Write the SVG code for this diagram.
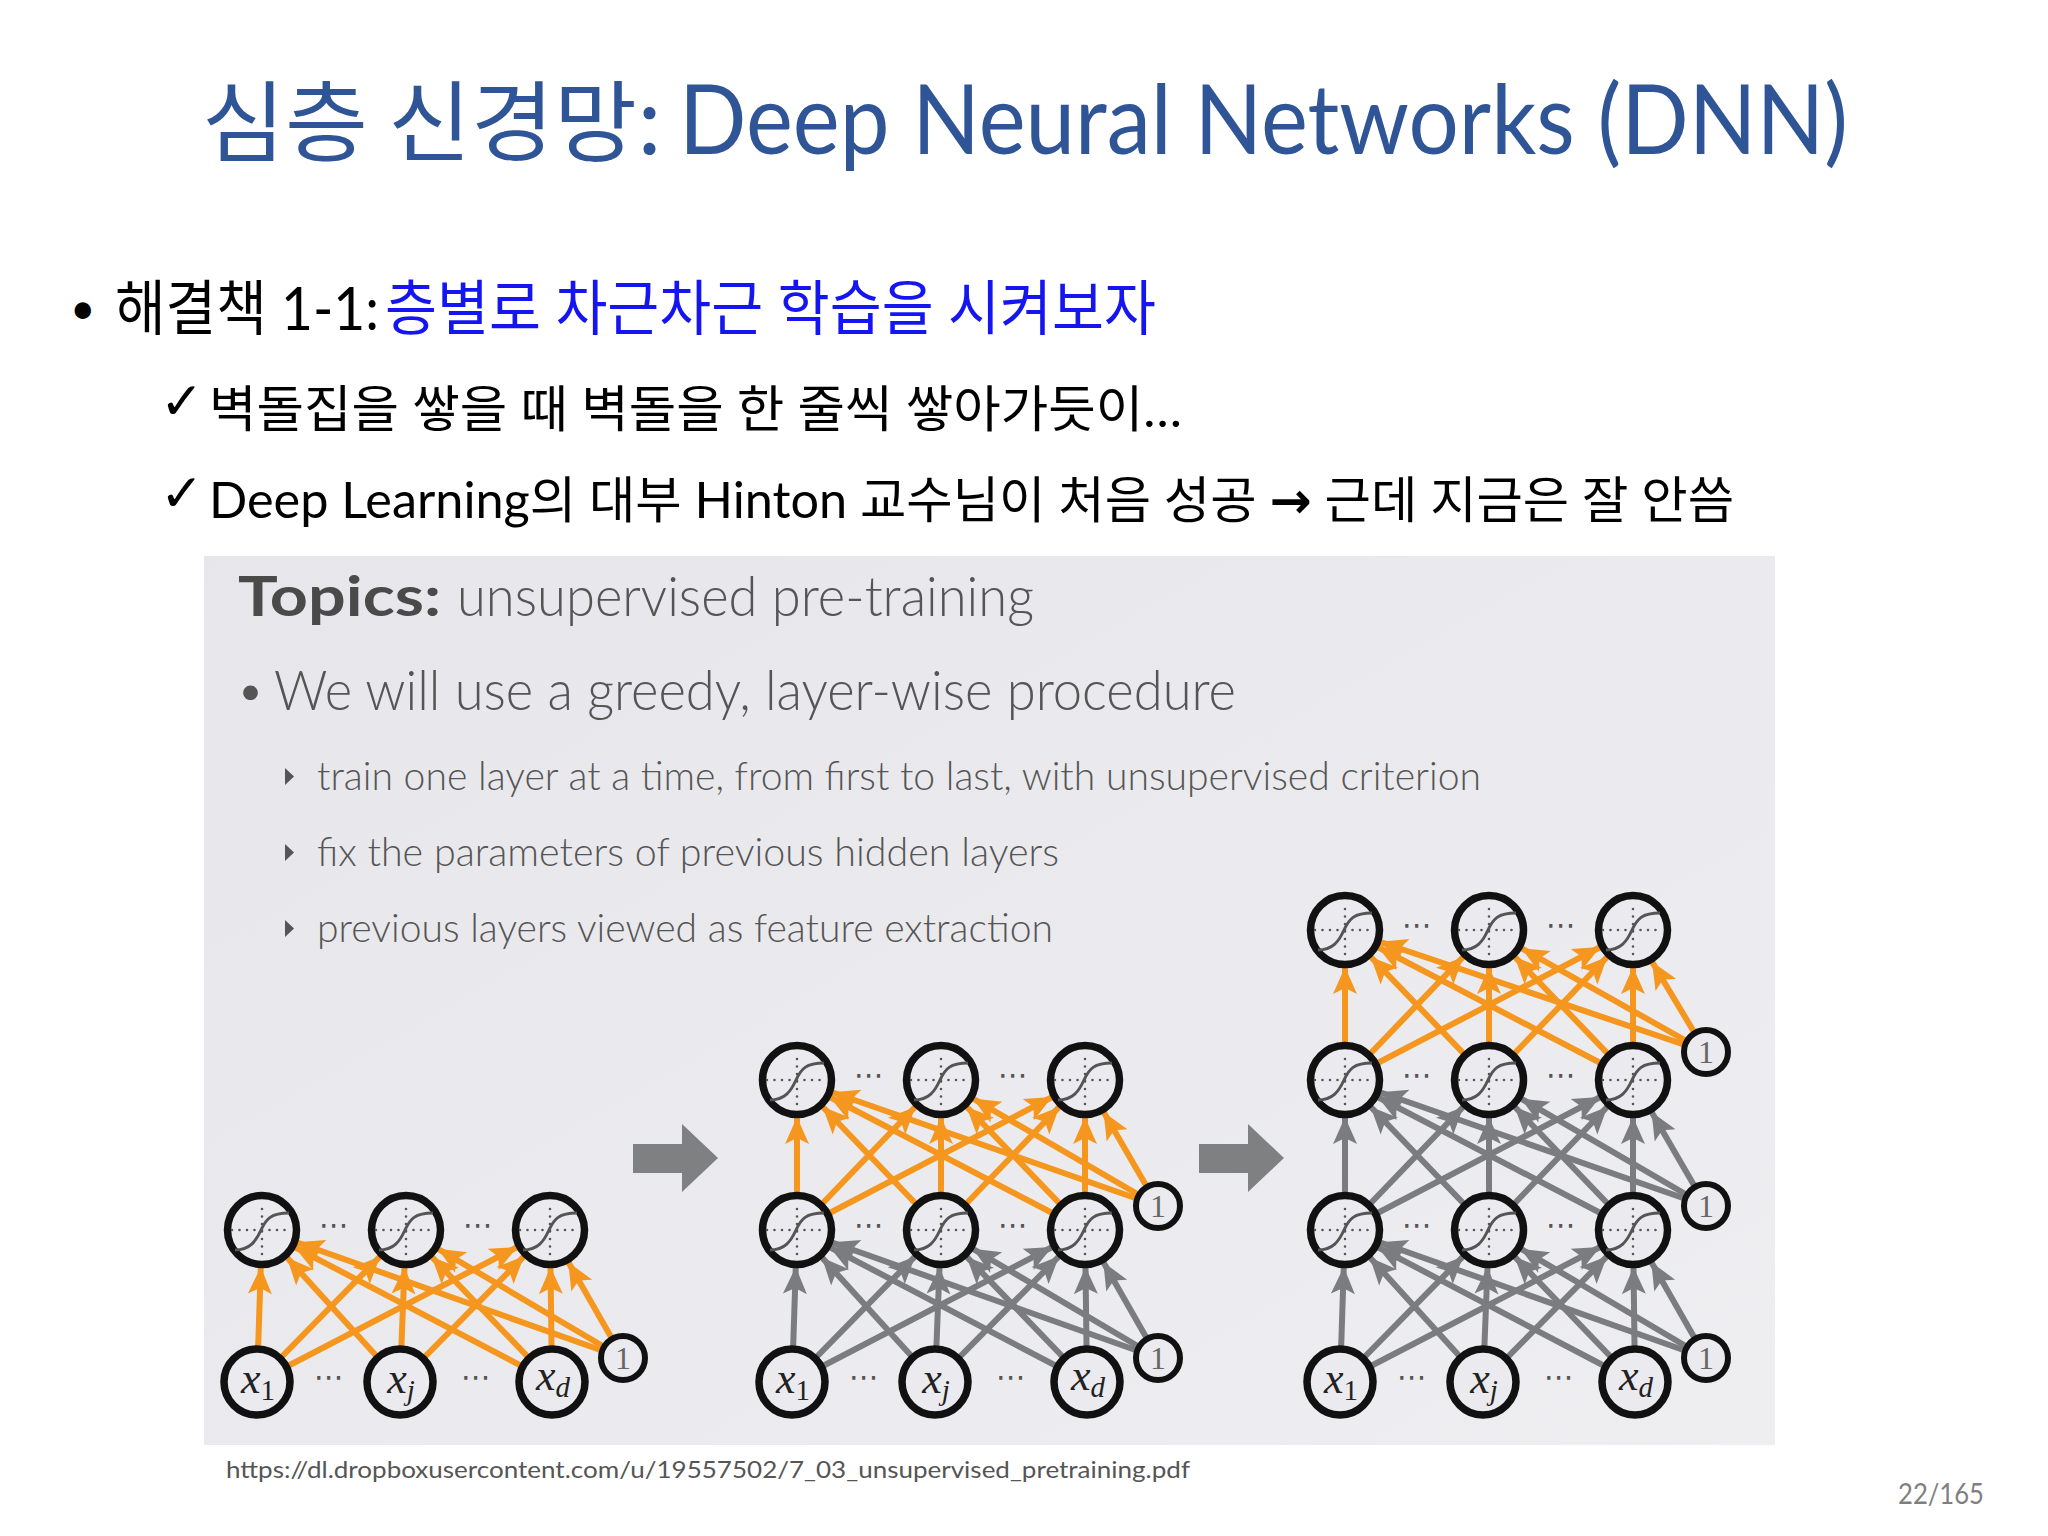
<svg xmlns="http://www.w3.org/2000/svg" xmlns:xlink="http://www.w3.org/1999/xlink" width="2048" height="1536" viewBox="0 0 2048 1536">
<style>
.ko{font-family:Lato,"Noto Sans CJK KR",sans-serif}
.pt{font-family:Lato,"Noto Sans",sans-serif;fill:#555;font-weight:300}
.or{stroke:#F5961E;stroke-width:6;marker-end:url(#mo)}
.gr{stroke:#7b7c80;stroke-width:6;marker-end:url(#mg)}
.hid{fill:#ebebef;stroke:#111;stroke-width:7.5}
.inp{fill:#ebebef;stroke:#111;stroke-width:7.5}
.bias{fill:#ebebef;stroke:#111;stroke-width:6}
.dots{font-family:"DejaVu Sans",sans-serif;font-size:30px;fill:#555;text-anchor:middle}
.mx{font-family:"Liberation Serif",serif;font-size:44px;fill:#222;text-anchor:middle}
.one{font-family:"Liberation Serif",serif;font-size:32px;fill:#666;text-anchor:middle}
.blk{fill:#7f8081}
</style>
<defs>
<marker id="mo" viewBox="-68 -15 70 30" refX="0" refY="0" markerWidth="70" markerHeight="30" markerUnits="userSpaceOnUse" orient="auto"><path d="M-37,0 L-64,-12 L-58,0 L-64,12 Z" fill="#F5961E"/></marker>
<marker id="mg" viewBox="-68 -15 70 30" refX="0" refY="0" markerWidth="70" markerHeight="30" markerUnits="userSpaceOnUse" orient="auto"><path d="M-37,0 L-64,-12 L-58,0 L-64,12 Z" fill="#7b7c80"/></marker>
<g id="sig">
<path d="M-30,0 H30" stroke="#555" stroke-width="2.6" stroke-dasharray="0 7.5" stroke-linecap="round" fill="none"/>
<path d="M0,-21 V29" stroke="#555" stroke-width="2.6" stroke-dasharray="0 7.5" stroke-linecap="round" fill="none"/>
<path d="M-27,20 C-12,20 -6,11 -1,0 S9,-17 27,-17" fill="none" stroke="#555" stroke-width="3"/>
</g>
<linearGradient id="bg" x1="0" y1="0" x2="1" y2="1"><stop offset="0" stop-color="#e7e7eb"/><stop offset="1" stop-color="#eeeef1"/></linearGradient>
</defs>
<rect width="2048" height="1536" fill="#ffffff"/>

<!-- title -->
<text x="202" y="154" font-family="Noto Sans CJK KR,sans-serif" font-size="88" fill="#2F5597" textLength="460" lengthAdjust="spacingAndGlyphs">심층 신경망:</text>
<text x="679" y="154" font-family="Lato,sans-serif" font-size="96" fill="#2F5597" textLength="1169" lengthAdjust="spacingAndGlyphs">Deep Neural Networks (DNN)</text>

<!-- bullets -->
<text x="70" y="324" class="ko" font-size="44" fill="#000">•</text>
<text x="115" y="330" class="ko" font-size="60" fill="#000" textLength="264" lengthAdjust="spacingAndGlyphs">해결책 1-1:</text>
<text x="385" y="330" class="ko" font-size="60" fill="#1515f0" textLength="771" lengthAdjust="spacingAndGlyphs">층별로 차근차근 학습을 시켜보자</text>
<text x="160" y="419" font-family="DejaVu Sans,sans-serif" font-size="52" fill="#000">✓</text>
<text x="209" y="427" class="ko" font-size="50" fill="#000" textLength="973" lengthAdjust="spacingAndGlyphs">벽돌집을 쌓을 때 벽돌을 한 줄씩 쌓아가듯이…</text>
<text x="160" y="511" font-family="DejaVu Sans,sans-serif" font-size="52" fill="#000">✓</text>
<text x="209" y="518" class="ko" font-size="50" fill="#000" textLength="1525" lengthAdjust="spacingAndGlyphs">Deep Learning의 대부 Hinton 교수님이 처음 성공 <tspan font-family="DejaVu Sans,sans-serif" font-weight="bold">→</tspan> 근데 지금은 잘 안씀</text>

<!-- panel -->
<rect x="204" y="556" width="1571" height="889" fill="url(#bg)"/>
<text x="238" y="616" font-family="Lato,sans-serif" font-weight="bold" font-size="56" fill="#4a4a4a" textLength="203" lengthAdjust="spacingAndGlyphs">Topics:</text>
<text x="457" y="616" class="pt" font-size="56" textLength="577" lengthAdjust="spacingAndGlyphs">unsupervised pre-training</text>
<text x="236" y="708" class="pt" font-size="50" font-weight="400">•</text>
<text x="274" y="710" class="pt" font-size="56" textLength="962" lengthAdjust="spacingAndGlyphs">We will use a greedy, layer-wise procedure</text>
<polygon points="285,768 294,776.5 285,785" fill="#555"/>
<text x="317" y="790" class="pt" font-size="40" textLength="1164" lengthAdjust="spacingAndGlyphs">train one layer at a time, from first to last, with unsupervised criterion</text>
<polygon points="285,844 294,852.5 285,861" fill="#555"/>
<text x="317" y="866" class="pt" font-size="40" textLength="742" lengthAdjust="spacingAndGlyphs">fix the parameters of previous hidden layers</text>
<polygon points="285,920 294,928.5 285,937" fill="#555"/>
<text x="317" y="942" class="pt" font-size="40" textLength="736" lengthAdjust="spacingAndGlyphs">previous layers viewed as feature extraction</text>

<!-- block arrows -->
<path class="blk" d="M633,1144 H682 V1124 L718,1158 L682,1192 V1173 H633 Z"/>
<path class="blk" d="M1199,1144 H1248 V1124 L1284,1158 L1248,1192 V1173 H1199 Z"/>

<!-- connectors -->
<g id="connectors">
<line class="or" x1="257" y1="1382" x2="262" y2="1230"/>
<line class="or" x1="257" y1="1382" x2="406" y2="1230"/>
<line class="or" x1="257" y1="1382" x2="550" y2="1230"/>
<line class="or" x1="400" y1="1382" x2="262" y2="1230"/>
<line class="or" x1="400" y1="1382" x2="406" y2="1230"/>
<line class="or" x1="400" y1="1382" x2="550" y2="1230"/>
<line class="or" x1="552" y1="1382" x2="262" y2="1230"/>
<line class="or" x1="552" y1="1382" x2="406" y2="1230"/>
<line class="or" x1="552" y1="1382" x2="550" y2="1230"/>
<line class="or" x1="623" y1="1358" x2="262" y2="1230"/>
<line class="or" x1="623" y1="1358" x2="406" y2="1230"/>
<line class="or" x1="623" y1="1358" x2="550" y2="1230"/>
<line class="gr" x1="792" y1="1382" x2="797" y2="1230"/>
<line class="gr" x1="792" y1="1382" x2="941" y2="1230"/>
<line class="gr" x1="792" y1="1382" x2="1085" y2="1230"/>
<line class="gr" x1="935" y1="1382" x2="797" y2="1230"/>
<line class="gr" x1="935" y1="1382" x2="941" y2="1230"/>
<line class="gr" x1="935" y1="1382" x2="1085" y2="1230"/>
<line class="gr" x1="1087" y1="1382" x2="797" y2="1230"/>
<line class="gr" x1="1087" y1="1382" x2="941" y2="1230"/>
<line class="gr" x1="1087" y1="1382" x2="1085" y2="1230"/>
<line class="gr" x1="1158" y1="1358" x2="797" y2="1230"/>
<line class="gr" x1="1158" y1="1358" x2="941" y2="1230"/>
<line class="gr" x1="1158" y1="1358" x2="1085" y2="1230"/>
<line class="or" x1="797" y1="1230" x2="797" y2="1080"/>
<line class="or" x1="797" y1="1230" x2="941" y2="1080"/>
<line class="or" x1="797" y1="1230" x2="1085" y2="1080"/>
<line class="or" x1="941" y1="1230" x2="797" y2="1080"/>
<line class="or" x1="941" y1="1230" x2="941" y2="1080"/>
<line class="or" x1="941" y1="1230" x2="1085" y2="1080"/>
<line class="or" x1="1085" y1="1230" x2="797" y2="1080"/>
<line class="or" x1="1085" y1="1230" x2="941" y2="1080"/>
<line class="or" x1="1085" y1="1230" x2="1085" y2="1080"/>
<line class="or" x1="1158" y1="1206" x2="797" y2="1080"/>
<line class="or" x1="1158" y1="1206" x2="941" y2="1080"/>
<line class="or" x1="1158" y1="1206" x2="1085" y2="1080"/>
<line class="gr" x1="1340" y1="1382" x2="1345" y2="1230"/>
<line class="gr" x1="1340" y1="1382" x2="1489" y2="1230"/>
<line class="gr" x1="1340" y1="1382" x2="1633" y2="1230"/>
<line class="gr" x1="1483" y1="1382" x2="1345" y2="1230"/>
<line class="gr" x1="1483" y1="1382" x2="1489" y2="1230"/>
<line class="gr" x1="1483" y1="1382" x2="1633" y2="1230"/>
<line class="gr" x1="1635" y1="1382" x2="1345" y2="1230"/>
<line class="gr" x1="1635" y1="1382" x2="1489" y2="1230"/>
<line class="gr" x1="1635" y1="1382" x2="1633" y2="1230"/>
<line class="gr" x1="1706" y1="1358" x2="1345" y2="1230"/>
<line class="gr" x1="1706" y1="1358" x2="1489" y2="1230"/>
<line class="gr" x1="1706" y1="1358" x2="1633" y2="1230"/>
<line class="gr" x1="1345" y1="1230" x2="1345" y2="1080"/>
<line class="gr" x1="1345" y1="1230" x2="1489" y2="1080"/>
<line class="gr" x1="1345" y1="1230" x2="1633" y2="1080"/>
<line class="gr" x1="1489" y1="1230" x2="1345" y2="1080"/>
<line class="gr" x1="1489" y1="1230" x2="1489" y2="1080"/>
<line class="gr" x1="1489" y1="1230" x2="1633" y2="1080"/>
<line class="gr" x1="1633" y1="1230" x2="1345" y2="1080"/>
<line class="gr" x1="1633" y1="1230" x2="1489" y2="1080"/>
<line class="gr" x1="1633" y1="1230" x2="1633" y2="1080"/>
<line class="gr" x1="1706" y1="1206" x2="1345" y2="1080"/>
<line class="gr" x1="1706" y1="1206" x2="1489" y2="1080"/>
<line class="gr" x1="1706" y1="1206" x2="1633" y2="1080"/>
<line class="or" x1="1345" y1="1080" x2="1345" y2="930"/>
<line class="or" x1="1345" y1="1080" x2="1489" y2="930"/>
<line class="or" x1="1345" y1="1080" x2="1633" y2="930"/>
<line class="or" x1="1489" y1="1080" x2="1345" y2="930"/>
<line class="or" x1="1489" y1="1080" x2="1489" y2="930"/>
<line class="or" x1="1489" y1="1080" x2="1633" y2="930"/>
<line class="or" x1="1633" y1="1080" x2="1345" y2="930"/>
<line class="or" x1="1633" y1="1080" x2="1489" y2="930"/>
<line class="or" x1="1633" y1="1080" x2="1633" y2="930"/>
<line class="or" x1="1706" y1="1052" x2="1345" y2="930"/>
<line class="or" x1="1706" y1="1052" x2="1489" y2="930"/>
<line class="or" x1="1706" y1="1052" x2="1633" y2="930"/>
</g>

<!-- network 1 nodes -->
<g id="n1-h1"><circle class="hid" cx="262" cy="1230" r="34.5"/><use xlink:href="#sig" x="262" y="1230"/></g>
<g id="n1-h2"><circle class="hid" cx="406" cy="1230" r="34.5"/><use xlink:href="#sig" x="406" y="1230"/></g>
<g id="n1-h3"><circle class="hid" cx="550" cy="1230" r="34.5"/><use xlink:href="#sig" x="550" y="1230"/></g>
<g id="n1-x1"><circle class="inp" cx="257" cy="1382" r="33"/><text class="mx" x="258" y="1393"><tspan font-style="italic">x</tspan><tspan font-size="29" dy="7">1</tspan></text></g>
<g id="n1-xj"><circle class="inp" cx="400" cy="1382" r="33"/><text class="mx" x="401" y="1393"><tspan font-style="italic">x</tspan><tspan font-size="29" dy="7" font-style="italic">j</tspan></text></g>
<g id="n1-xd"><circle class="inp" cx="552" cy="1382" r="33"/><text class="mx" x="553" y="1390"><tspan font-style="italic">x</tspan><tspan font-size="29" dy="7" font-style="italic">d</tspan></text></g>
<g id="n1-b0"><circle class="bias" cx="623" cy="1358" r="22"/><text class="one" x="623" y="1369">1</text></g>
<g id="n1-dots"><text class="dots" x="334" y="1235">⋯</text><text class="dots" x="478" y="1235">⋯</text><text class="dots" x="329" y="1387">⋯</text><text class="dots" x="476" y="1387">⋯</text></g>

<!-- network 2 nodes -->
<g id="n2-h1"><circle class="hid" cx="797" cy="1080" r="34.5"/><use xlink:href="#sig" x="797" y="1080"/></g>
<g id="n2-h2"><circle class="hid" cx="941" cy="1080" r="34.5"/><use xlink:href="#sig" x="941" y="1080"/></g>
<g id="n2-h3"><circle class="hid" cx="1085" cy="1080" r="34.5"/><use xlink:href="#sig" x="1085" y="1080"/></g>
<g id="n2-g1"><circle class="hid" cx="797" cy="1230" r="34.5"/><use xlink:href="#sig" x="797" y="1230"/></g>
<g id="n2-g2"><circle class="hid" cx="941" cy="1230" r="34.5"/><use xlink:href="#sig" x="941" y="1230"/></g>
<g id="n2-g3"><circle class="hid" cx="1085" cy="1230" r="34.5"/><use xlink:href="#sig" x="1085" y="1230"/></g>
<g id="n2-b1"><circle class="bias" cx="1158" cy="1206" r="22"/><text class="one" x="1158" y="1217">1</text></g>
<g id="n2-x1"><circle class="inp" cx="792" cy="1382" r="33"/><text class="mx" x="793" y="1393"><tspan font-style="italic">x</tspan><tspan font-size="29" dy="7">1</tspan></text></g>
<g id="n2-xj"><circle class="inp" cx="935" cy="1382" r="33"/><text class="mx" x="936" y="1393"><tspan font-style="italic">x</tspan><tspan font-size="29" dy="7" font-style="italic">j</tspan></text></g>
<g id="n2-xd"><circle class="inp" cx="1087" cy="1382" r="33"/><text class="mx" x="1088" y="1390"><tspan font-style="italic">x</tspan><tspan font-size="29" dy="7" font-style="italic">d</tspan></text></g>
<g id="n2-b0"><circle class="bias" cx="1158" cy="1358" r="22"/><text class="one" x="1158" y="1369">1</text></g>
<g id="n2-dots"><text class="dots" x="869" y="1085">⋯</text><text class="dots" x="1013" y="1085">⋯</text><text class="dots" x="869" y="1235">⋯</text><text class="dots" x="1013" y="1235">⋯</text><text class="dots" x="864" y="1387">⋯</text><text class="dots" x="1011" y="1387">⋯</text></g>

<!-- network 3 nodes -->
<g id="n3-h1"><circle class="hid" cx="1345" cy="930" r="34.5"/><use xlink:href="#sig" x="1345" y="930"/></g>
<g id="n3-h2"><circle class="hid" cx="1489" cy="930" r="34.5"/><use xlink:href="#sig" x="1489" y="930"/></g>
<g id="n3-h3"><circle class="hid" cx="1633" cy="930" r="34.5"/><use xlink:href="#sig" x="1633" y="930"/></g>
<g id="n3-k1"><circle class="hid" cx="1345" cy="1080" r="34.5"/><use xlink:href="#sig" x="1345" y="1080"/></g>
<g id="n3-k2"><circle class="hid" cx="1489" cy="1080" r="34.5"/><use xlink:href="#sig" x="1489" y="1080"/></g>
<g id="n3-k3"><circle class="hid" cx="1633" cy="1080" r="34.5"/><use xlink:href="#sig" x="1633" y="1080"/></g>
<g id="n3-b2"><circle class="bias" cx="1706" cy="1052" r="22"/><text class="one" x="1706" y="1063">1</text></g>
<g id="n3-g1"><circle class="hid" cx="1345" cy="1230" r="34.5"/><use xlink:href="#sig" x="1345" y="1230"/></g>
<g id="n3-g2"><circle class="hid" cx="1489" cy="1230" r="34.5"/><use xlink:href="#sig" x="1489" y="1230"/></g>
<g id="n3-g3"><circle class="hid" cx="1633" cy="1230" r="34.5"/><use xlink:href="#sig" x="1633" y="1230"/></g>
<g id="n3-b1"><circle class="bias" cx="1706" cy="1206" r="22"/><text class="one" x="1706" y="1217">1</text></g>
<g id="n3-x1"><circle class="inp" cx="1340" cy="1382" r="33"/><text class="mx" x="1341" y="1393"><tspan font-style="italic">x</tspan><tspan font-size="29" dy="7">1</tspan></text></g>
<g id="n3-xj"><circle class="inp" cx="1483" cy="1382" r="33"/><text class="mx" x="1484" y="1393"><tspan font-style="italic">x</tspan><tspan font-size="29" dy="7" font-style="italic">j</tspan></text></g>
<g id="n3-xd"><circle class="inp" cx="1635" cy="1382" r="33"/><text class="mx" x="1636" y="1390"><tspan font-style="italic">x</tspan><tspan font-size="29" dy="7" font-style="italic">d</tspan></text></g>
<g id="n3-b0"><circle class="bias" cx="1706" cy="1358" r="22"/><text class="one" x="1706" y="1369">1</text></g>
<g id="n3-dots"><text class="dots" x="1417" y="935">⋯</text><text class="dots" x="1561" y="935">⋯</text><text class="dots" x="1417" y="1085">⋯</text><text class="dots" x="1561" y="1085">⋯</text><text class="dots" x="1417" y="1235">⋯</text><text class="dots" x="1561" y="1235">⋯</text><text class="dots" x="1412" y="1387">⋯</text><text class="dots" x="1559" y="1387">⋯</text></g>

<!-- footer -->
<text x="226" y="1478" font-family="Lato,sans-serif" font-size="24" fill="#555" textLength="964" lengthAdjust="spacingAndGlyphs">https://dl.dropboxusercontent.com/u/19557502/7_03_unsupervised_pretraining.pdf</text>
<text x="1898" y="1504" font-family="Lato,sans-serif" font-size="28" fill="#7f7f7f" textLength="86" lengthAdjust="spacingAndGlyphs">22/165</text>
</svg>
